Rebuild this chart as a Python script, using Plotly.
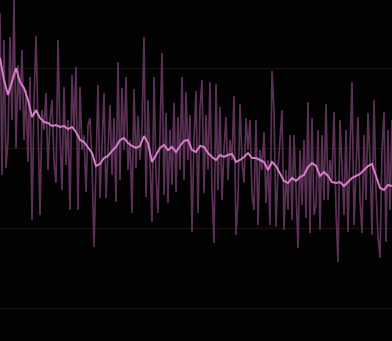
import plotly.graph_objects as go

# Raw noisy series (sampled every 2 x-units)
raw_values = [
    375, 213, 348, 220, 248, 351, 268, 388, 240, 323,
    278, 338, 248, 298, 226, 311, 168, 288, 352, 258,
    173, 278, 258, 295, 218, 268, 288, 226, 205, 348,
    253, 198, 301, 223, 268, 178, 313, 258, 321, 178,
    301, 238, 253, 196, 263, 270, 223, 141, 238, 303,
    190, 248, 295, 190, 238, 283, 213, 270, 186, 326,
    208, 300, 238, 311, 218, 248, 175, 299, 220, 272,
    228, 258, 351, 191, 288, 228, 166, 311, 213, 175,
    271, 335, 193, 275, 185, 258, 203, 285, 196, 271,
    218, 311, 208, 296, 228, 273, 156, 248, 297, 175,
    280, 308, 195, 273, 218, 306, 198, 145, 304, 198,
    281, 188, 238, 271, 208, 248, 228, 292, 153, 188,
    284, 228, 205, 270, 238, 268, 193, 178, 268, 163,
    238, 218, 256, 185, 228, 163, 317, 278, 161, 218,
    248, 278, 158, 218, 178, 253, 168, 253, 198, 140,
    238, 183, 248, 170, 286, 155, 270, 173, 183, 258,
    158, 253, 188, 284, 188, 228, 208, 276, 178, 126,
    268, 218, 173, 258, 156, 238, 306, 163, 218, 271,
    188, 155, 253, 188, 275, 228, 153, 288, 198, 151,
    130, 238, 276, 146, 258, 178, 268,
]

# Smoothed trend (sampled every 4 x-units)
smooth_values = [
    330, 308, 293, 306, 320, 306, 300, 288, 271, 278,
    270, 266, 265, 262, 263, 261, 262, 259, 261, 256,
    248, 246, 240, 235, 222, 224, 230, 232, 237, 241,
    248, 250, 245, 242, 240, 242, 252, 245, 226, 233,
    240, 243, 238, 241, 236, 242, 247, 248, 238, 236,
    242, 241, 235, 231, 228, 233, 231, 233, 234, 226,
    228, 231, 235, 230, 230, 228, 226, 218, 226, 222,
    214, 207, 205, 210, 207, 211, 213, 221, 225, 222,
    212, 216, 212, 206, 205, 206, 202, 206, 210, 212,
    214, 218, 222, 224, 213, 200, 198, 203, 202,
]

raw_x = [i * 2 for i in range(len(raw_values))]
smooth_x = [i * 4 for i in range(len(smooth_values))]

fig = go.Figure()
fig.add_trace(go.Scatter(
    x=raw_x, y=raw_values, mode="lines",
    line=dict(color="#5a3154", width=1.7),
    hoverinfo="skip", showlegend=False,
))
fig.add_trace(go.Scatter(
    x=smooth_x, y=smooth_values, mode="lines",
    line=dict(color="#d47cc9", width=2),
    hoverinfo="skip", showlegend=False,
))

fig.update_layout(
    width=392, height=341, autosize=False,
    margin=dict(l=0, r=0, t=0, b=0, pad=0),
    paper_bgcolor="#030203", plot_bgcolor="#030203",
    showlegend=False,
    xaxis=dict(range=[0, 392], showgrid=False, zeroline=False,
               showticklabels=False, showline=False, ticks=""),
    yaxis=dict(range=[47, 388], showgrid=True, gridcolor="#1d1212",
               gridwidth=1, tick0=0, dtick=80, zeroline=False,
               showticklabels=False, showline=False, ticks=""),
)

fig.write_html("out.html")
